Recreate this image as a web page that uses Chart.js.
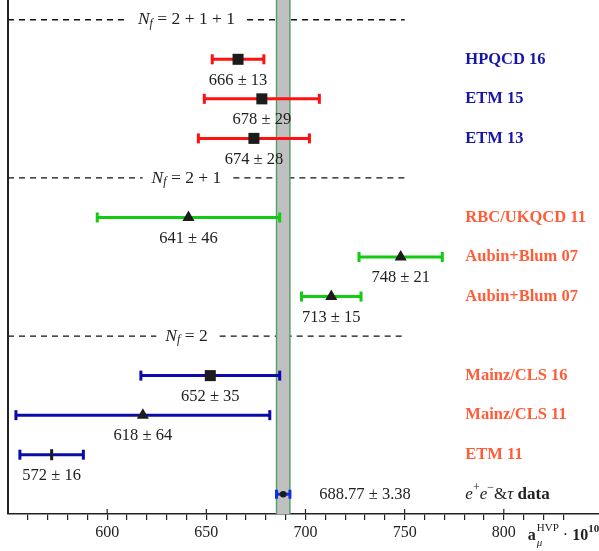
<!DOCTYPE html>
<html>
<head>
<meta charset="utf-8">
<script src="https://cdn.jsdelivr.net/npm/chart.js@4.4.1/dist/chart.umd.min.js"></script>
<style>
  html, body { margin: 0; padding: 0; background: #fff; }
  canvas { display: block; }
</style>
</head>
<body>
<canvas id="myChart" width="599" height="551"></canvas>
<script>
// lattice results, top to bottom
const names = ["HPQCD 16", "ETM 15", "ETM 13", "RBC/UKQCD 11", "Aubin+Blum 07",
  "Aubin+Blum 07", "Mainz/CLS 16", "Mainz/CLS 11", "ETM 11"]
const centers = [666, 678, 674, 641, 748, 713, 652, 618, 572]
const errors = [13, 29, 28, 46, 21, 15, 35, 64, 16]
const rows = [11.5, 10.5, 9.5, 7.5, 6.5, 5.5, 3.5, 2.5, 1.5]
const groups = ["2+1+1", "2+1+1", "2+1+1", "2+1", "2+1", "2+1", "2", "2", "2"]
const markers = ["square", "square", "square", "triangle", "triangle", "triangle",
  "square", "triangle", "bar"]

// N_f separators
const sectionRows = [12.5, 8.5, 4.5]
const sectionLabels = ["2 + 1 + 1", "2 + 1", "2"]

// e+e- & tau data
const refValue = 688.77
const refError = 3.38
const refRow = 0.5

const SERIF = "'Liberation Serif', 'DejaVu Serif', serif"
const barColor = { "2+1+1": "#ff1111", "2+1": "#11cc11", "2": "#0b0baa" }
const nameColor = { "2+1+1": "#1515a8", "2+1": "#ff5c38", "2": "#ff5c38" }
const ink = "#222"

function markerStyle(k) {
  if (k === "square") return { style: "rect", r: 7.8, rot: 0, bw: 0 }
  if (k === "triangle") return { style: "triangle", r: 7, rot: 0, bw: 0 }
  return { style: "line", r: 5.5, rot: 90, bw: 3 }
}

function drawRuns(ctx, x, y, runs, measureOnly) {
  let w = 0
  runs.forEach((r) => {
    ctx.font = r.font
    if (!measureOnly) {
      ctx.fillStyle = r.color || ink
      ctx.fillText(r.t, x + w, y + (r.dy || 0))
    }
    w += ctx.measureText(r.t).width
  })
  return w
}

const annot = {
  id: "annot",
  beforeDatasetsDraw(chart) {
    const { ctx, chartArea, scales: { x, y } } = chart
    ctx.save()
    // section separators
    sectionRows.forEach((row, i) => {
      const py = y.getPixelForValue(row)
      const cx = x.getPixelForValue(640)
      const runs = [
        { t: "N", font: "italic 17.5px " + SERIF },
        { t: "f", font: "italic 12px " + SERIF, dy: 4 },
        { t: " = " + sectionLabels[i], font: "17.5px " + SERIF },
      ]
      ctx.textBaseline = "middle"
      const w = drawRuns(ctx, 0, 0, runs, true)
      drawRuns(ctx, cx - w / 2, py, runs)
      ctx.strokeStyle = "#111"
      ctx.lineWidth = 1.3
      ctx.setLineDash([6, 5])
      ctx.beginPath()
      ctx.moveTo(chartArea.left, py)
      ctx.lineTo(cx - w / 2 - 9, py)
      ctx.moveTo(cx + w / 2 + 12, py)
      ctx.lineTo(x.getPixelForValue(750), py)
      ctx.stroke()
      ctx.setLineDash([])
    })
    // reference band
    const bl = x.getPixelForValue(refValue - refError)
    const br = x.getPixelForValue(refValue + refError)
    ctx.fillStyle = "#c0c0c0"
    ctx.fillRect(bl, chartArea.top, br - bl, chartArea.bottom - chartArea.top)
    ctx.strokeStyle = "#4f9f68"
    ctx.lineWidth = 1.4
    ctx.beginPath()
    ctx.moveTo(bl, chartArea.top); ctx.lineTo(bl, chartArea.bottom)
    ctx.moveTo(br, chartArea.top); ctx.lineTo(br, chartArea.bottom)
    ctx.stroke()
    ctx.restore()
  },
  afterDatasetsDraw(chart) {
    const { ctx, chartArea, scales: { x, y } } = chart
    ctx.save()
    ctx.textBaseline = "middle"
    const nameX = x.getPixelForValue(780.6)
    centers.forEach((c, i) => {
      const py = y.getPixelForValue(rows[i])
      ctx.font = "16.5px " + SERIF
      ctx.fillStyle = ink
      ctx.textAlign = "center"
      ctx.fillText(c + " \u00b1 " + errors[i], x.getPixelForValue(c), py + 21)
      ctx.textAlign = "left"
      ctx.font = "bold 16.5px " + SERIF
      ctx.fillStyle = nameColor[groups[i]]
      ctx.fillText(names[i], nameX, py)
    })
    // reference row
    const ry = y.getPixelForValue(refRow)
    ctx.font = "16.5px " + SERIF
    ctx.fillStyle = ink
    ctx.textAlign = "center"
    ctx.fillText(refValue + " \u00b1 " + refError, x.getPixelForValue(730), ry)
    ctx.textAlign = "left"
    drawRuns(ctx, nameX, ry, [
      { t: "e", font: "italic 17px " + SERIF },
      { t: "+", font: "12px " + SERIF, dy: -6 },
      { t: "e", font: "italic 17px " + SERIF },
      { t: "\u2212", font: "12px " + SERIF, dy: -6 },
      { t: "&", font: "17px " + SERIF },
      { t: "\u03c4", font: "italic 17px " + SERIF },
      { t: " data", font: "bold 17px " + SERIF },
    ])
    // major ticks poke above the axis
    ctx.strokeStyle = ink
    ctx.lineWidth = 1.2
    ctx.beginPath()
    for (let v = 600; v <= 800; v += 50) {
      const px = x.getPixelForValue(v)
      ctx.moveTo(px, chartArea.bottom - 5)
      ctx.lineTo(px, chartArea.bottom)
    }
    ctx.stroke()
    // left axis line
    ctx.lineWidth = 2
    ctx.beginPath()
    ctx.moveTo(chartArea.left, chartArea.top)
    ctx.lineTo(chartArea.left, chartArea.bottom)
    ctx.stroke()
    // axis title
    ctx.textBaseline = "alphabetic"
    const ty = chartArea.bottom + 26
    let tx = x.getPixelForValue(800) + 24
    ctx.font = "bold 16px " + SERIF
    ctx.fillStyle = ink
    ctx.fillText("a", tx, ty)
    const aw = ctx.measureText("a").width
    ctx.font = "italic 11px " + SERIF
    ctx.fillText("\u03bc", tx + aw + 1, ty + 6)
    ctx.font = "11px " + SERIF
    ctx.fillText("HVP", tx + aw + 1, ty - 9)
    tx += aw + 1 + ctx.measureText("HVP").width
    tx += drawRuns(ctx, tx, ty, [{ t: " \u00b7 ", font: "16px " + SERIF }])
    tx += drawRuns(ctx, tx, ty, [{ t: "10", font: "bold 16px " + SERIF }])
    drawRuns(ctx, tx, ty - 8, [{ t: "10", font: "bold 11px " + SERIF }])
    ctx.restore()
  },
}

const markerPoints = centers.map((c, i) => ({ x: c, y: rows[i] }))
markerPoints.push({ x: refValue, y: refRow })
const mStyles = markers.map(markerStyle)
mStyles.push({ style: "circle", r: 3.3, rot: 0, bw: 0 })

const datasets = [{
  label: "markers",
  order: 0,
  data: markerPoints,
  pointStyle: mStyles.map((m) => m.style),
  pointRadius: mStyles.map((m) => m.r),
  pointRotation: mStyles.map((m) => m.rot),
  pointBorderWidth: mStyles.map((m) => m.bw),
  pointBackgroundColor: "#1c1c1c",
  pointBorderColor: "#1c1c1c",
  showLine: false,
}]

centers.forEach((c, i) => {
  const col = barColor[groups[i]]
  datasets.push({
    label: names[i],
    order: 1,
    data: [{ x: c - errors[i], y: rows[i] }, { x: c + errors[i], y: rows[i] }],
    showLine: true,
    borderColor: col,
    borderWidth: 3,
    pointStyle: "line",
    pointRotation: 90,
    pointRadius: 5,
    pointBorderWidth: 3,
    pointBorderColor: col,
  })
})
datasets.push({
  label: "data",
  order: 1,
  data: [{ x: refValue - refError, y: refRow }, { x: refValue + refError, y: refRow }],
  showLine: true,
  borderColor: "#1030e0",
  borderWidth: 3,
  pointStyle: "line",
  pointRotation: 90,
  pointRadius: 4.5,
  pointBorderWidth: 3,
  pointBorderColor: "#1030e0",
})

new Chart(document.getElementById("myChart"), {
  type: "scatter",
  data: { datasets },
  plugins: [annot],
  options: {
    responsive: false,
    devicePixelRatio: 1,
    animation: false,
    layout: { autoPadding: false, padding: { left: 8, top: 0, right: 0, bottom: 0 } },
    plugins: { legend: { display: false }, tooltip: { enabled: false } },
    scales: {
      x: {
        type: "linear",
        min: 550,
        max: 848,
        afterBuildTicks: (s) => { s.ticks = s.ticks.filter((t) => t.value % 10 === 0 && t.value > 550) },
        afterFit: (s) => { s.height = 37 },
        grid: { display: true, drawOnChartArea: false, drawTicks: true, tickLength: 6, color: ink, lineWidth: 1.2 },
        border: { display: true, color: ink, width: 1.5 },
        ticks: {
          stepSize: 10,
          autoSkip: false,
          maxRotation: 0,
          padding: 3,
          color: ink,
          font: { family: SERIF, size: 16 },
          callback: (v) => (v % 50 === 0 && v <= 800 ? v : ""),
        },
      },
      y: {
        type: "linear",
        min: 0,
        max: 13,
        display: true,
        afterFit: (s) => { s.width = 0 },
        grid: { display: false, drawTicks: false },
        border: { display: false },
        ticks: { display: false },
      },
    },
  },
})
</script>
</body>
</html>
